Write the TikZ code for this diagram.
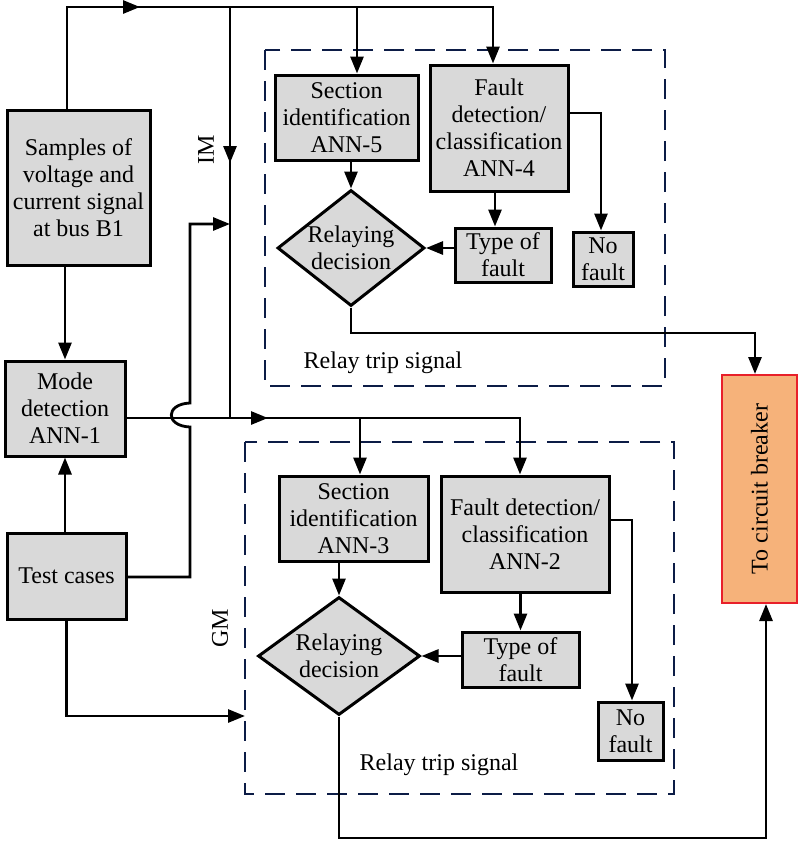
\documentclass[tikz,border=0pt]{standalone}
\usepackage{fontspec}
\setmainfont{Liberation Serif}
\usetikzlibrary{arrows.meta,shapes.geometric}
\definecolor{boxgray}{RGB}{217,217,217}
\definecolor{navy}{RGB}{12,28,70}
\definecolor{cbfill}{RGB}{246,178,122}
\definecolor{cbred}{RGB}{232,32,42}
\begin{document}
\begin{tikzpicture}[x=1pt,y=-1pt,
  txt/.style={font=\fontsize{24}{27}\selectfont},
  box/.style={draw=black,line width=3pt,fill=boxgray,inner sep=0pt,align=center,txt},
  diam/.style={draw=black,line width=3pt,fill=boxgray,diamond,inner sep=0pt},
  conn/.style={line width=2.8pt,draw=black,-{Triangle[length=17pt,width=13pt]}},
  plain/.style={line width=2.8pt,draw=black},
  dashbox/.style={line width=2.6pt,draw=navy,dash pattern=on 20pt off 11pt},
  lbl/.style={txt,inner sep=0pt}]
\useasboundingbox (0,0) rectangle (800,844);

% dashed groups
\draw[dashbox] (265,50) rectangle (665,386);
\draw[dashbox] (245,442) rectangle (674,794);

% boxes
\node[box,minimum width=143pt,minimum height=155pt] (samples) at (78.5,187.5) {Samples of\\voltage and\\current signal\\at bus B1};
\node[box,minimum width=120pt,minimum height=95pt] (mode) at (65,408.5) {Mode\\detection\\ANN-1};
\node[box,minimum width=119pt,minimum height=86pt] (test) at (66.5,576) {Test cases};
\node[box,minimum width=143pt,minimum height=85pt] (ann5) at (346.5,117.5) {Section\\identification\\ANN-5};
\node[box,minimum width=138pt,minimum height=126pt] (ann4) at (499,128) {Fault\\detection/\\classification\\ANN-4};
\node[box,minimum width=96pt,minimum height=54pt] (type1) at (503,255) {Type of\\fault};
\node[box,minimum width=60pt,minimum height=54pt] (no1) at (603,259) {No\\fault};
\node[diam,minimum width=147pt,minimum height=116pt] (d1) at (351,248) {};
\node[lbl,align=center] (d1t) at (d1) {Relaying\\decision};
\node[box,minimum width=149pt,minimum height=85pt] (ann3) at (353.5,518.5) {Section\\identification\\ANN-3};
\node[box,minimum width=168pt,minimum height=116pt] (ann2) at (525,534) {Fault detection/\\classification\\ANN-2};
\node[box,minimum width=117pt,minimum height=55pt] (type2) at (520.5,659.5) {Type of\\fault};
\node[box,minimum width=65pt,minimum height=58pt] (no2) at (630.5,731) {No\\fault};
\node[diam,minimum width=162pt,minimum height=118pt] (d2) at (339,656) {};
\node[lbl,align=center] (d2t) at (d2) {Relaying\\decision};
\node[draw=cbred,line width=2pt,fill=cbfill,minimum width=75pt,minimum height=228pt,inner sep=0pt] (cb) at (759.5,489) {};
\node[lbl,rotate=90] (cbt) at (cb) {To circuit breaker};

% labels
\node[lbl,rotate=90] (im) at (206,150) {IM};
\node[lbl,rotate=90] (gm) at (220,628) {GM};
\node[lbl] (rts1) at (383,363) {Relay trip signal};
\node[lbl] (rts2) at (439,765) {Relay trip signal};

% coordinates
\coordinate (tl) at (67,7);
\coordinate (tr) at (493,7);
\coordinate (b5) at (357,7);
\coordinate (bim) at (230,7);
\coordinate (imarrow) at (230,163);
\coordinate (imjoin) at (230,418);
\coordinate (topmid) at (140,7);
\coordinate (tc1) at (190,577);
\coordinate (tc2) at (190,224);
\coordinate (modemid) at (268,418);
\coordinate (g2) at (520,418);
\coordinate (g3) at (360,418);
\coordinate (nf1) at (601,113);
\coordinate (nf2) at (632,520);
\coordinate (r1) at (351,333);
\coordinate (r2) at (755,333);
\coordinate (r4) at (766,838);
\coordinate (tb) at (245,716);

% top distribution line
\draw[conn] ([xshift=-11.5pt]samples.north) -- (tl) -- (tr) -- (tr |- ann4.north);
\draw[conn] (tl) -- (topmid);
\draw[conn] (b5) -- (b5 |- ann5.north);
\draw[plain] (bim) -- (imjoin);
\draw[conn] (bim) -- (imarrow);

% samples -> mode, test -> mode
\draw[conn] (mode.north |- samples.south) -- (mode.north);
\draw[conn] (mode.south |- test.north) -- (mode.south);

% test cases -> IM (with hop)
\draw[conn] (test.east |- tc1) -- (tc1) -- (190,427) .. controls (165,426) and (165,404) .. (190,403) -- (tc2) -- (bim |- tc2);

% mode detection -> GM
\draw[conn] (mode.east |- imjoin) -- (g2) -- (g2 |- ann2.north);
\draw[conn] (mode.east |- imjoin) -- (modemid);
\draw[conn] (g3) -- (g3 |- ann3.north);

% test cases -> GM
\draw[conn] (test.south) -- (test.south |- tb) -- (tb);

% IM internals
\draw[conn] (ann5.south -| d1.north) -- (d1.north);
\draw[conn] (ann4.south -| 495,0) -- (type1.north -| 495,0);
\draw[conn] (type1.west |- d1.east) -- (d1.east);
\draw[conn] (ann4.east |- nf1) -- (nf1) -- (nf1 |- no1.north);
\draw[conn] (d1.south) -- (r1) -- (r2) -- (r2 |- cb.north);

% GM internals
\draw[conn] (ann3.south -| d2.north) -- (d2.north);
\draw[conn] (ann2.south -| type2.north) -- (type2.north);
\draw[conn] (type2.west |- d2.east) -- (d2.east);
\draw[conn] (ann2.east |- nf2) -- (nf2) -- (nf2 |- no2.north);
\draw[conn] (d2.south) -- (d2.south |- r4) -- (r4) -- (r4 |- cb.south);
\end{tikzpicture}
\end{document}
